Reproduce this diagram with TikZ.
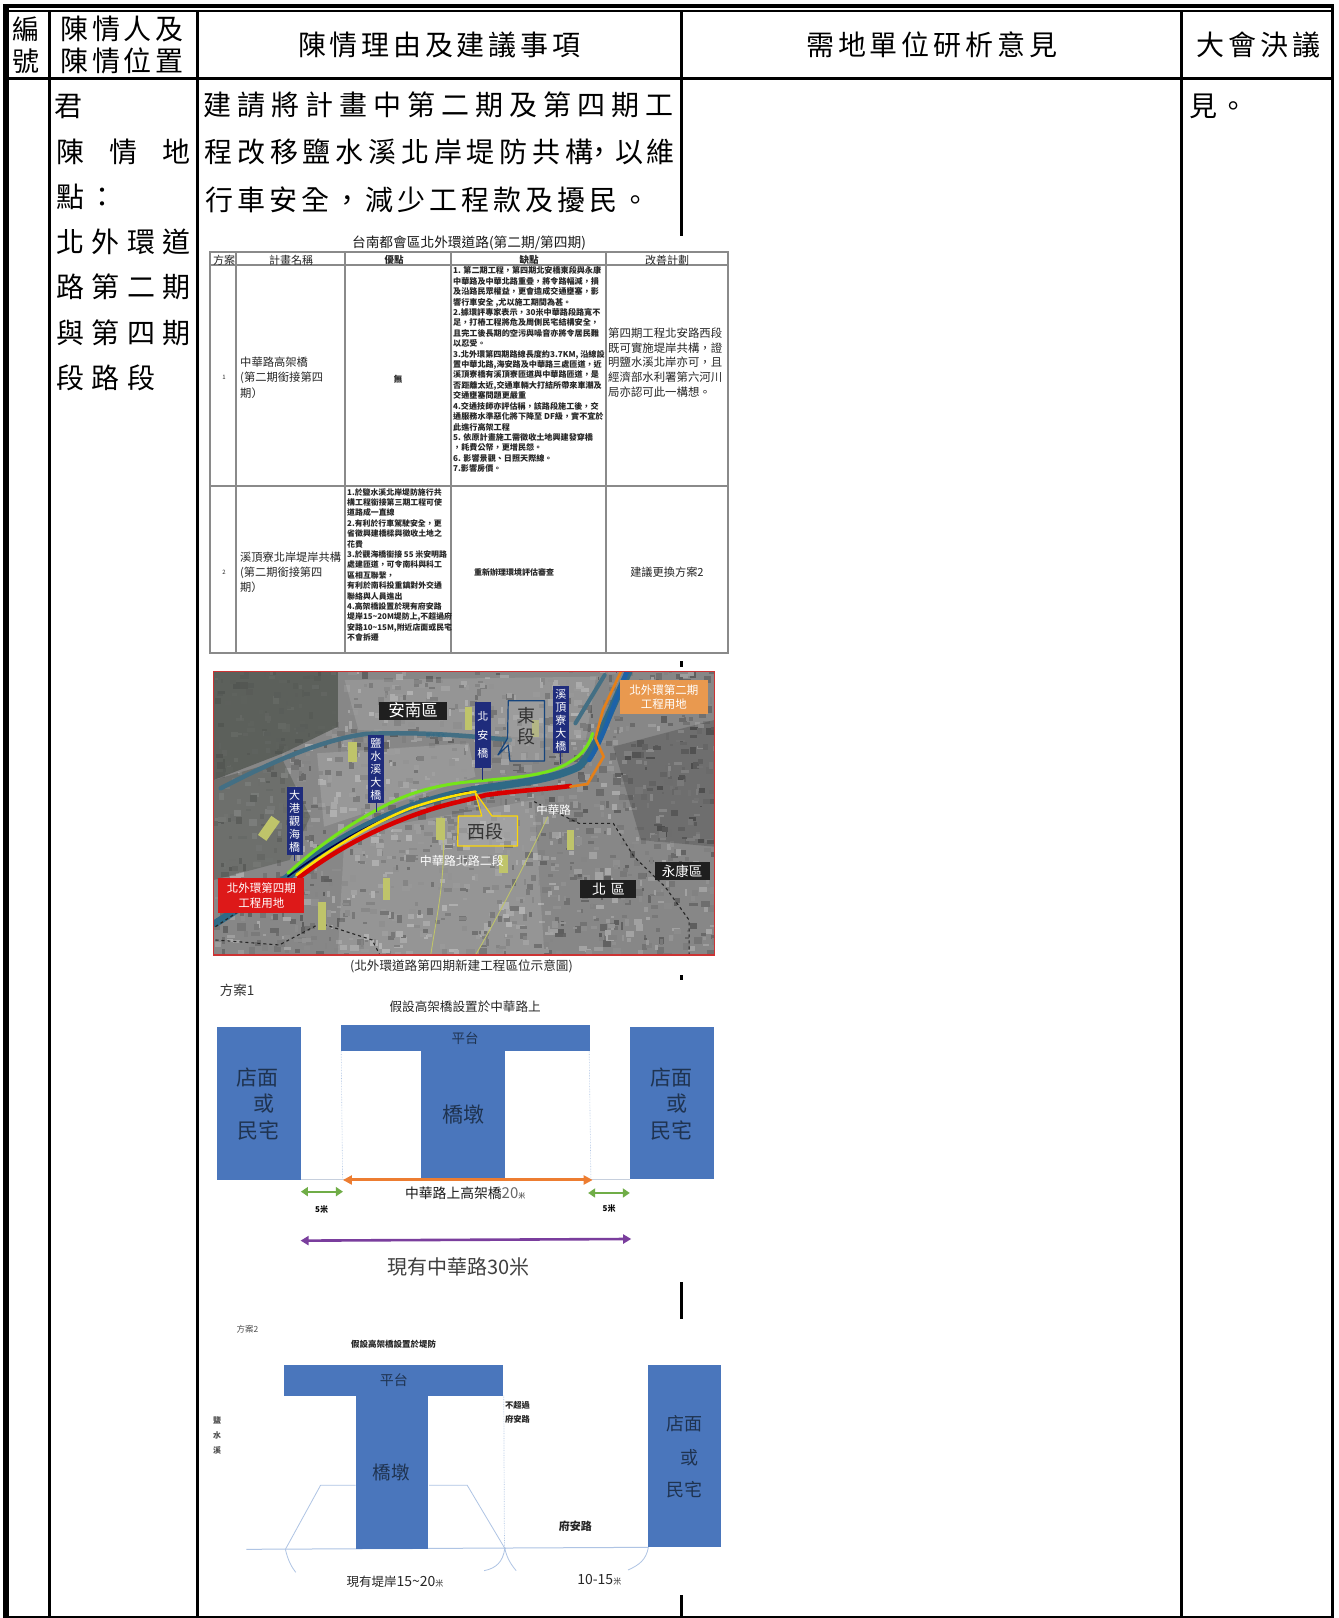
\documentclass[tikz,border=0pt]{standalone}
\usepackage{fontspec}
\setmainfont{Noto Sans CJK TC}
\usetikzlibrary{arrows.meta}
\makeatletter
\newcommand\spc[2]{\@tfor\ch:=#2\do{\makebox[#1pt][c]{\ch}}}
\makeatother
\definecolor{rule}{HTML}{000000}
\definecolor{tblgrey}{HTML}{8A8A8A}
\definecolor{tbltxt}{HTML}{262626}
\definecolor{bluebox}{HTML}{4A76BC}
\definecolor{boxtxt}{HTML}{1F3350}
\definecolor{lightln}{HTML}{AFC4E4}
\definecolor{darkbl}{HTML}{1F2C7C}
\definecolor{darkzone}{HTML}{4E534D}
\definecolor{rivertl}{HTML}{2F6A86}
\definecolor{riverdp}{HTML}{1C62A8}
\definecolor{patchc}{HTML}{BFC46A}
\definecolor{orgbox}{HTML}{E9994F}
\definecolor{orgarrow}{HTML}{ED7D31}
\definecolor{grnarrow}{HTML}{70AD47}
\definecolor{purarrow}{HTML}{7A3E9D}
\tikzset{
  fz/.style={font=\fontsize{#1}{#1}\selectfont},
  fzb/.style={font=\fontsize{#1}{#1}\selectfont\bfseries},
  fzl/.style 2 args={font=\fontsize{#1}{#2}\selectfont,align=left},
  fzlb/.style 2 args={font=\fontsize{#1}{#2}\selectfont\bfseries,align=left},
  spaced/.style={anchor=base west,inner sep=0pt,font=\fontsize{#1}{#1}\selectfont},
  txt/.style={inner sep=0pt},
  gridln/.style={draw=tblgrey,line width=1.1pt},
  bl/.style={fill=bluebox,draw=none},
  btxt/.style={inner sep=0pt,text=boxtxt},
  dark/.style={fill=black!88,text=white,inner sep=0pt,minimum height=#1},
  vlabel/.style={fill=darkbl,draw=none},
  road/.style={line cap=round,line join=round},
  boundary/.style={draw=black!85,line width=1.1pt,dashed},
  patch/.style={fill=patchc,draw=none},
}
\begin{document}
\begin{tikzpicture}[x=1pt,y=-1pt]
\useasboundingbox (0,0) rectangle (1339,1618);
\fill[white] (0,0) rectangle (1339,1618);

%% ---------- outer table ----------
\fill[rule] (3,4) rectangle (1333,8);
\fill[rule] (3,10) rectangle (1333,11.5);
\fill[rule] (3,77) rectangle (1333,79.5);
\fill[rule] (3,1616) rectangle (1333,1618);
\fill[rule] (3,4) rectangle (9,1618);
\fill[rule] (48,10) rectangle (51,1618);
\fill[rule] (196,10) rectangle (199,1618);
\fill[rule] (1180,10) rectangle (1183,1618);
\fill[rule] (1331,4) rectangle (1333.5,1618);
\fill[rule] (680,10) rectangle (683,235.5);
\fill[rule] (680,661) rectangle (683,667);
\fill[rule] (680,975) rectangle (683,980);
\fill[rule] (680,1282) rectangle (683,1319);
\fill[rule] (680,1595) rectangle (683,1616);

%% ---------- header ----------
\node[txt,fz=27] (h1a) at (26,29) {編};
\node[txt,fz=27] (h1b) at (26,61) {號};
\node[spaced=28] (h2a) at (59,39) {\spc{31.5}{陳情人及}};
\node[spaced=28] (h2b) at (59,71) {\spc{31.5}{陳情位置}};
\node[spaced=28] (h3) at (296,55) {\spc{31.75}{陳情理由及建議事項}};
\node[spaced=28] (h4) at (804,55) {\spc{31.9}{需地單位研析意見}};
\node[spaced=28] (h5) at (1194,55) {\spc{32}{大會決議}};

%% ---------- body text ----------
\node[spaced=28] (l1) at (54,116) {君};
\node[spaced=28] (l2) at (43.5,162.5) {\spc{53}{陳情地}};
\node[spaced=28] (l3) at (54,207) {\spc{32}{點：}};
\node[spaced=28] (l4) at (52.25,252) {\spc{35.5}{北外環道}};
\node[spaced=28] (l5) at (52.25,297.5) {\spc{35.5}{路第二期}};
\node[spaced=28] (l6) at (52.25,343) {\spc{35.5}{與第四期}};
\node[spaced=28] (l7) at (52.25,388) {\spc{35.5}{段路段}};
\node[spaced=28] (m1) at (200,115) {\spc{34}{建請將計畫中第二期及第四期工}};
\node[spaced=28] (m2) at (202,162.5) {\spc{32.8}{程改移鹽水溪北岸堤防共構}};
\node[spaced=28] (m2c) at (585,162.5) {\spc{28}{，}};
\node[spaced=28] (m2d) at (613.5,162.5) {\spc{31}{以維}};
\node[spaced=28] (m3) at (203,210) {\spc{32}{行車安全，減少工程款及擾民。}};
\node[spaced=28] (r1) at (1188,116) {\spc{30}{見。}};

%% ---------- embedded table ----------
\node[txt,fz=13.7,text=black!90] (ttl) at (469,243) {台南都會區北外環道路(第二期/第四期)};
\draw[gridln,line width=1.4pt] (210,252) rectangle (728,653);
\draw[gridln] (210,265) -- (728,265);
\draw[gridln,line width=1.4pt] (210,486) -- (728,486);
\draw[gridln] (236,252) -- (236,653);
\draw[gridln] (345,252) -- (345,653);
\draw[gridln] (451,252) -- (451,653);
\draw[gridln] (606,252) -- (606,653);
\begin{scope}[text=tbltxt]
\node[txt,fz=11] (t1) at (224,260) {方案};
\node[txt,fz=11] (t2) at (291,260) {計畫名稱};
\node[txt,fzb=9.5] (t3) at (394,260) {優點};
\node[txt,fzb=9.5] (t4) at (529,260) {缺點};
\node[txt,fz=11] (t5) at (667,260) {改善計劃};
\node[txt,fz=6] (r1n) at (224,377) {1};
\node[txt,fzl={11.3}{15.5},anchor=west] (r1a) at (240,377.5) {中華路高架橋\\(第二期銜接第四\\期）};
\node[txt,fzb=8.5] (r1b) at (398,379) {無};
\node[txt,fzlb={8.1}{10.42},anchor=north west] (r1c) at (453,266.5) {1. 第二期工程，第四期北安橋東段與永康\\中華路及中華北路重疊，將令路幅減，損\\及沿路民眾權益，更會造成交通壅塞，影\\響行車安全 ,尤以施工期間為甚。\\2.據環評專家表示，30米中華路段路寬不\\足，打樁工程將危及周側民宅結構安全，\\且完工後長期的空污與噪音亦將令居民難\\以忍受。\\3.北外環第四期路線長度約3.7KM, 沿線設\\置中華北路,海安路及中華路三處匝道，近\\溪頂寮橋有溪頂寮匝道與中華路匝道，是\\否距離太近,交通車輛大打結所帶來車潮及\\交通壅塞問題更嚴重\\4.交通技師亦評估稱，該路段施工後，交\\通服務水準惡化將下降至 DF級，實不宜於\\此進行高架工程\\5. 依原計畫施工需徵收土地興建發穿橋\\，耗費公帑，更增民怨。\\6. 影響景觀、日照天際線。\\7.影響房價。};
\node[txt,fzl={11.4}{14.8},anchor=west] (r1d) at (608,362.5) {第四期工程北安路西段\\既可實施堤岸共構，證\\明鹽水溪北岸亦可，且\\經濟部水利署第六河川\\局亦認可此一構想。};
\node[txt,fz=6] (r2n) at (224,572) {2};
\node[txt,fzl={11.2}{15},anchor=west] (r2a) at (240,572) {溪頂寮北岸堤岸共構\\(第二期銜接第四\\期）};
\node[txt,fzlb={7.9}{10.4},anchor=north west] (r2b) at (347,488) {1.於鹽水溪北岸堤防施行共\\構工程銜接第三期工程可使\\道路成一直線\\2.有利於行車駕駛安全，更\\省徵興建橋樑與徵收土地之\\花費\\3.於觀海橋銜接 55 米安明路\\處建匝道，可令南科與科工\\區相互聯繫，\\有利於南科投重鎮對外交通\\聯絡與人員進出\\4.高架橋設置於現有府安路\\堤岸15{\char"7E}20M堤防上,不超過府\\安路10{\char"7E}15M,附近店面或民宅\\不會拆遷};
\node[txt,fzb=8] (r2c) at (514,572) {重新辦理環境評估審查};
\node[txt,fz=11.2] (r2d) at (667,572) {建議更換方案2};
\end{scope}

%% ---------- aerial map (zoom coordinates) ----------
\begin{scope}[shift={(200,660)},x=0.3444pt,y=-0.3333pt]
\begin{scope}
\clip (40,35) rectangle (1493,885);
\fill[black!47] (40,35) rectangle (1493,885);
\pgfmathsetseed{4217}
\foreach \i in {1,...,1600}{
  \pgfmathsetmacro\xx{30+rnd*1460}
  \pgfmathsetmacro\yy{25+rnd*860}
  \pgfmathsetmacro\ww{6+rnd*20}
  \pgfmathsetmacro\hh{6+rnd*16}
  \pgfmathtruncatemacro\gg{34+rnd*30}
  \fill[black!\gg] (\xx,\yy) rectangle ++(\ww,\hh);
}
% darker zones
\fill[darkzone,opacity=.75] (40,35) -- (400,35) -- (400,200) -- (240,280) -- (40,360) -- cycle;
\fill[darkzone,opacity=.45] (40,360) -- (240,300) -- (320,470) -- (260,600) -- (40,660) -- cycle;
\fill[white,opacity=.12] (420,60) -- (1150,50) -- (1120,240) -- (460,210) -- cycle;
\fill[white,opacity=.15] (340,280) -- (780,250) -- (800,350) -- (360,500) -- cycle;
\fill[white,opacity=.12] (420,520) -- (970,420) -- (1000,885) -- (400,885) -- cycle;
\fill[black,opacity=.18] (1200,260) -- (1493,180) -- (1493,560) -- (1280,540) -- cycle;
% roads
\draw[draw=patchc,line width=.9pt] (700,470) .. controls (720,620) and (690,750) .. (670,885);
\draw[draw=patchc,line width=.9pt] (1010,470) .. controls (950,600) and (860,780) .. (800,885);
% upper river branches
\draw[road,draw=rivertl!75!gray,line width=4.5pt] (60,385) .. controls (200,310) and (350,240) .. (480,222) .. controls (620,215) and (760,225) .. (900,240);
\draw[road,draw=rivertl!75!gray,line width=4pt] (1090,190) -- (1175,45);
\node[txt,fz=5,text=rivertl] (riv1) at (685,228) {鹽水溪大};
\node[txt,fz=5,text=rivertl] (riv2) at (630,428) {鹽水溪};
% main river
\draw[road,draw=rivertl,line width=7.5pt] (45,790) -- (250,655) .. controls (400,530) and (560,440) .. (780,392) .. controls (900,370) and (1010,365) .. (1100,320) .. controls (1150,270) and (1190,150) .. (1245,35);
\draw[road,draw=riverdp,line width=4.5pt] (1130,300) .. controls (1175,230) and (1200,130) .. (1240,35);
\draw[road,draw=black!70!blue,line width=1.6pt] (255,650) .. controls (400,540) and (560,445) .. (780,395);
% boundaries
\draw[boundary] (970,425) -- (1100,490) -- (1200,490) -- (1260,590) -- (1350,680) -- (1420,780) -- (1420,885);
\draw[boundary] (45,840) -- (230,855) -- (350,790) -- (500,840) -- (522,885);
\draw[boundary] (45,800) -- (250,660);
% patches
\fill[patch] (768,140) rectangle (790,210);
\fill[patch] (430,245) rectangle (455,305);
\fill[patch,rotate around={-35:(200,505)}] (185,470) rectangle (215,540);
\fill[patch] (685,475) rectangle (710,540);
\fill[patch] (1065,510) rectangle (1087,570);
\fill[patch] (532,655) rectangle (553,720);
\fill[patch] (342,725) rectangle (366,810);
\fill[patch] (868,585) rectangle (895,640);
\fill[patch] (965,180) rectangle (985,230);
% routes
\draw[road,draw=red!85!black,line width=4.6pt] (288,652) .. controls (400,565) and (520,500) .. (650,455) .. controls (720,430) and (780,420) .. (830,405) .. controls (920,392) and (1000,388) .. (1075,378);
\draw[road,draw=yellow!85!orange,line width=2.6pt] (280,645) .. controls (380,565) and (500,490) .. (610,445) .. controls (680,420) and (740,405) .. (800,395);
\draw[road,draw=green!55!yellow!80!gray,line width=3pt] (255,640) .. controls (330,570) and (430,490) .. (560,425) .. controls (640,385) and (730,368) .. (820,362) .. controls (920,352) and (1020,345) .. (1075,305) .. controls (1110,285) and (1130,255) .. (1140,220);
\draw[road,draw=orange!60!brown,line width=2.6pt] (1075,380) -- (1125,372) -- (1172,290) -- (1148,235) -- (1170,150) -- (1222,35);
\end{scope}
\draw[draw=red!60!gray,line width=1.1pt] (40,35) rectangle (1493,885);
% vertical name plates
\fill[vlabel] (252,382) rectangle (298,585);
\fill[vlabel] (488,225) rectangle (535,428);
\fill[vlabel] (798,125) rectangle (845,325);
\fill[vlabel] (1025,78) rectangle (1072,280);
\draw[darkbl,line width=.9pt] (275,585) -- (275,602);
\draw[darkbl,line width=.9pt] (511,428) -- (511,455);
\draw[darkbl,line width=.9pt] (821,325) -- (821,360);
\draw[darkbl,line width=.9pt] (1048,280) -- (1048,312);
\begin{scope}[text=white]
\node[txt,align=center,font=\fontsize{11}{13}\selectfont] (v1) at (275,483) {大\\港\\觀\\海\\橋};
\node[txt,align=center,font=\fontsize{11}{13}\selectfont] (v2) at (511,327) {鹽\\水\\溪\\大\\橋};
\node[txt,align=center,font=\fontsize{11}{18.5}\selectfont] (v3) at (821,225) {北\\安\\橋};
\node[txt,align=center,font=\fontsize{11}{13}\selectfont] (v4) at (1048,180) {溪\\頂\\寮\\大\\橋};
\end{scope}
% callouts
\draw[darkbl!70!teal,line width=1.2pt,line join=round,fill=black!35,fill opacity=.45] (895,122) -- (1000,122) -- (1000,303) -- (900,303) -- (895,255) -- (865,285) -- (893,235) -- cycle;
\node[txt,align=center,font=\fontsize{18}{21}\selectfont,text=black!80] (east) at (948,198) {東\\段};
\draw[draw=yellow!75!orange,line width=1.2pt,line join=round,fill=black!30,fill opacity=.45] (750,468) -- (818,468) -- (798,395) -- (848,468) -- (922,468) -- (922,558) -- (748,558) -- cycle;
\node[txt,fz=18,text=black!80] (west) at (828,516) {西段};
% boxes
\node[dark=18pt,minimum width=68pt,fz=16.5] (anan) at (619,152) {安南區};
\node[dark=18pt,minimum width=55pt,fz=13.5] (yk) at (1400,634) {永康區};
\node[dark=18pt,minimum width=56pt,fz=14] (north) at (1186,687) {北\,\,區};
\fill[orgbox] (1220,60) rectangle (1475,163);
\fill[red!85!black!90!white] (52,655) rectangle (303,760);
\node[txt,align=center,font=\fontsize{11.5}{14}\selectfont,text=white] (ob) at (1347,112) {北外環第二期\\工程用地};
\node[txt,align=center,font=\fontsize{11.5}{14.5}\selectfont,text=white] (rb) at (178,707) {北外環第四期\\工程用地};
\node[txt,fz=11.5,text=white] (zh1) at (1027,450) {中華路};
\node[txt,fz=12,text=white] (zh2) at (760,603) {中華路北路二段};
\node[txt,fz=12.6,text=black!85] (cap) at (759,920) {(北外環道路第四期新建工程區位示意圖)};
\end{scope}

%% ---------- scheme 1 ----------
\begin{scope}[shift={(200,970)},x=0.3444pt,y=-0.3333pt]
\node[txt,fz=13.5,text=black!80] (s1t) at (108,62) {方案1};
\node[txt,fz=12.6,text=black!85] (s1h) at (770,110) {假設高架橋設置於中華路上};
\draw[lightln,line width=.6pt,densely dotted] (410,243) -- (414,628);
\draw[lightln,line width=.6pt,densely dotted] (1130,243) -- (1135,628);
\draw[draw=lightln!70!gray!60!white,line width=1pt] (293,628) -- (1248,628);
\fill[bl] (48,172) rectangle (293,630);
\fill[bl] (1248,172) rectangle (1492,628);
\fill[bl] (643,243) rectangle (886,628);
\fill[bl] (410,165) rectangle (1133,243);
\node[btxt,fz=13.5] (s1p) at (770,205) {平台};
\node[btxt,fz=21] (s1q) at (765,435) {橋墩};
\node[btxt,fz=21] (s1a) at (168,322) {店面};
\node[btxt,fz=21] (s1b) at (185,400) {或};
\node[btxt,fz=21] (s1c) at (170,482) {民宅};
\node[btxt,fz=21] (s1d) at (1370,322) {店面};
\node[btxt,fz=21] (s1e) at (1385,400) {或};
\node[btxt,fz=21] (s1f) at (1370,482) {民宅};
\coordinate (oa) at (415,630);
\coordinate (ob1) at (1140,630);
\coordinate (ga) at (293,665);
\coordinate (gb) at (415,665);
\coordinate (gc) at (1127,669);
\coordinate (gd) at (1248,669);
\coordinate (pa) at (292,812);
\coordinate (pb) at (1252,807);
\draw[draw=orgarrow,line width=3pt,{Triangle[length=9pt,width=9pt]}-{Triangle[length=9pt,width=9pt]}] (oa) -- (ob1);
\draw[draw=grnarrow,line width=2.2pt,{Triangle[length=7pt,width=9pt]}-{Triangle[length=7pt,width=9pt]}] (ga) -- (gb);
\draw[draw=grnarrow,line width=2.2pt,{Triangle[length=7pt,width=9pt]}-{Triangle[length=7pt,width=9pt]}] (gc) -- (gd);
\draw[draw=purarrow,line width=2.6pt,{Triangle[length=8pt,width=9pt]}-{Triangle[length=8pt,width=9pt]}] (pa) -- (pb);
\node[txt,anchor=west,text=black!90] (s1w) at (595,670) {\fontsize{13.8}{14}\selectfont 中華路上高架橋\fontsize{15}{15}\selectfont\textcolor{black!60}{20}\fontsize{7}{7}\selectfont 米};
\node[txt,fzb=8,text=black] (s5a) at (353,718) {5米};
\node[txt,fzb=8,text=black] (s5b) at (1188,715) {5米};
\node[txt,fz=20,text=black!75] (s1z) at (750,892) {現有中華路30米};
\end{scope}

%% ---------- scheme 2 ----------
\begin{scope}[shift={(200,1300)},x=0.3444pt,y=-0.3333pt]
\node[txt,fz=8.5,text=black!70] (s2t) at (138,88) {方案2};
\node[txt,fzb=8.5,text=black!85] (s2h) at (562,132) {假設高架橋設置於堤防};
\node[txt,align=center,font=\fontsize{8}{15}\selectfont\bfseries,text=black!70] (s2r) at (50,405) {鹽\\水\\溪};
\coordinate (base) at (135,748);
\coordinate (bend) at (1302,742);
\coordinate (e1) at (248,748);
\coordinate (e2) at (350,556);
\coordinate (e3) at (452,556);
\coordinate (e4) at (665,556);
\coordinate (e5) at (776,556);
\coordinate (e6) at (885,745);
\draw[draw=lightln,line width=1pt] (base) -- (bend);
\draw[draw=lightln,line width=.8pt] (e1) -- (e2) -- (e3);
\draw[draw=lightln,line width=.8pt] (e4) -- (e5) -- (e6);
\draw[lightln,line width=.7pt,densely dotted] (882,287) -- (884,745);
\fill[lightln] (e6) circle (3.5);
\draw[draw=lightln,line width=.8pt] (e1) .. controls (255,780) and (265,800) .. (278,817);
\draw[draw=lightln,line width=.8pt] (e6) .. controls (880,785) and (860,805) .. (825,812);
\draw[draw=lightln,line width=.8pt] (e6) .. controls (890,770) and (900,790) .. (918,812);
\draw[draw=lightln,line width=.8pt] (bend) .. controls (1295,780) and (1275,795) .. (1243,810);
\fill[bl] (452,287) rectangle (663,748);
\fill[bl] (243,195) rectangle (881,287);
\fill[bl] (1300,195) rectangle (1513,742);
\node[btxt,fz=14] (s2p) at (563,240) {平台};
\node[btxt,fz=18.5] (s2q) at (556,518) {橋墩};
\node[btxt,fz=18] (s2a) at (1407,370) {店面};
\node[btxt,fz=18] (s2b) at (1420,472) {或};
\node[btxt,fz=18] (s2c) at (1407,570) {民宅};
\node[txt,font=\fontsize{8.3}{14.3}\selectfont\bfseries,align=left,anchor=west,text=black!85] (s2n) at (885,337) {不超過\\府安路};
\node[txt,fzb=11,text=black!85] (s2f) at (1090,678) {府安路};
\node[txt,anchor=west,text=black!85] (s2x) at (425,845) {\fontsize{12.5}{13}\selectfont 現有堤岸\fontsize{14}{14}\selectfont 15\char"7E 20\fontsize{8}{8}\selectfont 米};
\node[txt,anchor=west,text=black!85] (s2y) at (1095,840) {\fontsize{14}{14}\selectfont 10-15\fontsize{8}{8}\selectfont 米};
\end{scope}
\end{tikzpicture}
\end{document}
